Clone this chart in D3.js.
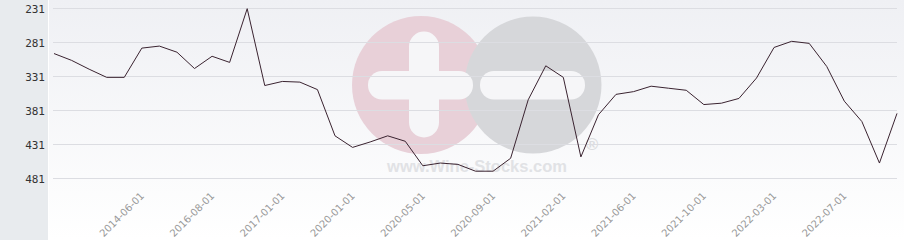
<!DOCTYPE html>
<html lang="en">
    <head>
        <meta charset="utf-8">
        <title>Price chart</title>
        <script type="text/javascript" src="https://cdn.jsdelivr.net/npm/d3@7/dist/d3.min.js"></script>
        <style>
            body { margin: 0; background: #fff; }
        </style>
    </head>
    <body>
        <script type="text/javascript">

        //Width and height
        var w = 904;
        var h = 240;
        var panelW = 49;

        //Data (rank values, lower is better so axis runs downward)
        var categories = d3.range(49);
        var values = [298, 308, 321, 333, 333, 290, 287, 296, 320, 302,
                      311, 232, 345, 339, 340, 351, 419, 436, 428, 419,
                      427, 463, 459, 461, 471, 471, 452, 366, 316, 333,
                      450, 388, 358, 354, 346, 349, 352, 373, 371, 364,
                      334, 289, 280, 283, 317, 368, 398, 459, 386];
        var yTicks = [231, 281, 331, 381, 431, 481];
        var tickIndex = [5, 9, 13, 17, 21, 25, 29, 33, 37, 41, 45];
        var tickLabels = ["2014-06-01", "2016-08-01", "2017-01-01", "2020-01-01", "2020-05-01",
                          "2020-09-01", "2021-02-01", "2021-06-01", "2021-10-01", "2022-03-01", "2022-07-01"];

        //Scales
        var xScale = d3.scalePoint()
                       .domain(categories)
                       .range([54, 897]);

        var yScale = d3.scaleLinear()
                       .domain([231, 481])
                       .range([8, 178]);

        var svg = d3.select("body")
                    .append("svg")
                    .attr("width", w)
                    .attr("height", h);

        //Background gradient
        var defs = svg.append("defs");
        var grad = defs.append("linearGradient")
                       .attr("id", "bg")
                       .attr("x1", 0).attr("y1", 0)
                       .attr("x2", 0).attr("y2", 1);
        grad.append("stop").attr("offset", "0%").attr("stop-color", "#eff0f4");
        grad.append("stop").attr("offset", "100%").attr("stop-color", "#ffffff");

        svg.append("rect")
           .attr("x", panelW)
           .attr("y", 0)
           .attr("width", w - panelW)
           .attr("height", h)
           .attr("fill", "url(#bg)");

        //Left panel
        svg.append("rect")
           .attr("x", 0)
           .attr("y", 0)
           .attr("width", panelW - 1)
           .attr("height", h)
           .attr("fill", "#e8ebee");

        //Watermark
        var wm = svg.append("g").attr("class", "watermark");
        wm.append("circle").attr("cx", 421).attr("cy", 85).attr("r", 69).attr("fill", "#e8d0d8");
        wm.append("circle").attr("cx", 533).attr("cy", 85).attr("r", 68.5).attr("fill", "#d6d7da");
        wm.append("rect").attr("x", 409).attr("y", 31.5).attr("width", 30).attr("height", 106)
          .attr("rx", 15).attr("fill", "#f6f6f8");
        wm.append("rect").attr("x", 368).attr("y", 71).attr("width", 105).attr("height", 28.5)
          .attr("rx", 14).attr("fill", "#f6f6f8");
        wm.append("rect").attr("x", 480).attr("y", 71).attr("width", 105).attr("height", 28.5)
          .attr("rx", 14).attr("fill", "#f6f6f8");
        wm.append("text").attr("x", 477).attr("y", 172).attr("text-anchor", "middle")
          .attr("font-family", "'Liberation Sans', Arial, sans-serif").attr("font-weight", "bold")
          .attr("font-size", "16.5px").attr("fill", "#e1e2e5")
          .text("www.Wine-Stocks.com");
        wm.append("text").attr("x", 592).attr("y", 150).attr("text-anchor", "middle")
          .attr("font-family", "'Liberation Sans', Arial, sans-serif").attr("font-weight", "bold")
          .attr("font-size", "17px").attr("fill", "#dcdde0")
          .text("®");

        //Gridlines
        svg.append("g")
           .selectAll("line")
           .data(yTicks)
           .enter()
           .append("line")
           .attr("x1", 53)
           .attr("x2", 897)
           .attr("y1", function(d) { return Math.round(yScale(d)) + 0.5; })
           .attr("y2", function(d) { return Math.round(yScale(d)) + 0.5; })
           .attr("stroke", "#dcdde2")
           .attr("stroke-width", 1);

        //Y axis labels
        var yAxis = d3.axisLeft(yScale)
                      .tickValues(yTicks)
                      .tickSize(0)
                      .tickPadding(0);

        var gy = svg.append("g")
                    .attr("transform", "translate(45,0.5)")
                    .call(yAxis);
        gy.select(".domain").remove();
        gy.selectAll("text")
          .attr("font-family", "'DejaVu Sans Mono', monospace")
          .attr("font-size", "11px")
          .attr("fill", "#333");

        //X axis labels
        var xAxis = d3.axisBottom(xScale)
                      .tickValues(tickIndex)
                      .tickSize(0)
                      .tickFormat(function(d) { return tickLabels[tickIndex.indexOf(d)]; });

        var gx = svg.append("g")
                    .attr("transform", "translate(0,190)")
                    .call(xAxis);
        gx.select(".domain").remove();
        gx.selectAll("text")
          .attr("font-family", "'DejaVu Sans', sans-serif")
          .attr("font-size", "10px")
          .attr("fill", "#999")
          .attr("text-anchor", "end")
          .attr("dy", "0.35em")
          .attr("y", 0)
          .attr("transform", "translate(0,4) rotate(-45)");

        //Line
        var line = d3.line()
                     .x(function(d, i) { return xScale(categories[i]); })
                     .y(function(d) { return yScale(d); });

        svg.append("path")
           .datum(values)
           .attr("d", line)
           .attr("fill", "none")
           .attr("stroke", "#3a2330")
           .attr("stroke-width", 1);

        </script>
    </body>
</html>
